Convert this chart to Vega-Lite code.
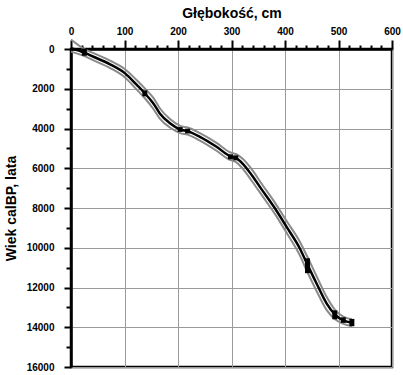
{
  "$schema": "https://vega.github.io/schema/vega-lite/v6.json",
  "width": 321,
  "height": 318,
  "autosize": {"type": "none"},
  "padding": {"left": 71, "top": 49, "right": 11, "bottom": 8},
  "background": "white",
  "config": {
    "view": {"stroke": "black", "strokeWidth": 2.5},
    "font": "Liberation Sans"
  },
  "datasets": {
    "curve": [
      {"depth": 0, "age": -40, "age_lo": -480, "age_hi": 130},
      {"depth": 25, "age": 180, "age_lo": 1, "age_hi": 359},
      {"depth": 42, "age": 390, "age_lo": 208, "age_hi": 572},
      {"depth": 73, "age": 770, "age_lo": 582, "age_hi": 958},
      {"depth": 101, "age": 1225, "age_lo": 1015, "age_hi": 1435},
      {"depth": 123, "age": 1810, "age_lo": 1574, "age_hi": 2046},
      {"depth": 138, "age": 2230, "age_lo": 1982, "age_hi": 2478},
      {"depth": 154, "age": 2740, "age_lo": 2463, "age_hi": 3017},
      {"depth": 166, "age": 3240, "age_lo": 2981, "age_hi": 3499},
      {"depth": 185, "age": 3740, "age_lo": 3528, "age_hi": 3952},
      {"depth": 204, "age": 4050, "age_lo": 3869, "age_hi": 4231},
      {"depth": 218, "age": 4130, "age_lo": 3953, "age_hi": 4307},
      {"depth": 241, "age": 4420, "age_lo": 4231, "age_hi": 4609},
      {"depth": 272, "age": 4920, "age_lo": 4722, "age_hi": 5118},
      {"depth": 298, "age": 5400, "age_lo": 5208, "age_hi": 5592},
      {"depth": 308, "age": 5480, "age_lo": 5284, "age_hi": 5676},
      {"depth": 322, "age": 5800, "age_lo": 5548, "age_hi": 6052},
      {"depth": 338, "age": 6350, "age_lo": 6060, "age_hi": 6640},
      {"depth": 356, "age": 7050, "age_lo": 6770, "age_hi": 7330},
      {"depth": 382, "age": 8050, "age_lo": 7765, "age_hi": 8335},
      {"depth": 403, "age": 8950, "age_lo": 8650, "age_hi": 9250},
      {"depth": 428, "age": 10050, "age_lo": 9706, "age_hi": 10394},
      {"depth": 442, "age": 10850, "age_lo": 10465, "age_hi": 11235},
      {"depth": 459, "age": 11800, "age_lo": 11426, "age_hi": 12174},
      {"depth": 478, "age": 12810, "age_lo": 12483, "age_hi": 13137},
      {"depth": 493, "age": 13350, "age_lo": 13114, "age_hi": 13586},
      {"depth": 509, "age": 13650, "age_lo": 13466, "age_hi": 13834},
      {"depth": 525, "age": 13770, "age_lo": 13597, "age_hi": 13943}
    ],
    "dates": [
      {"depth": 25, "age_min": -20, "age_max": 340},
      {"depth": 138, "age_min": 2080, "age_max": 2380},
      {"depth": 204, "age_min": 3930, "age_max": 4170},
      {"depth": 218, "age_min": 4010, "age_max": 4250},
      {"depth": 298, "age_min": 5300, "age_max": 5550},
      {"depth": 308, "age_min": 5350, "age_max": 5600},
      {"depth": 442, "age_min": 10530, "age_max": 11280},
      {"depth": 493, "age_min": 13150, "age_max": 13600},
      {"depth": 509, "age_min": 13500, "age_max": 13780},
      {"depth": 525, "age_min": 13580, "age_max": 13950}
    ]
  },
  "layer": [
    {
      "data": {"name": "curve"},
      "mark": {"type": "line", "color": "#8a8a8a", "strokeWidth": 2, "interpolate": "monotone"},
      "encoding": {
        "x": {
          "field": "depth", "type": "quantitative",
          "scale": {"domain": [0, 600], "nice": false},
          "axis": {
            "orient": "top",
            "title": "Głębokość, cm",
            "titleFont": "Liberation Sans",
            "titleFontSize": 14,
            "titleFontWeight": "bold",
            "titlePadding": 6,
            "tickCount": 100,
            "values": [0, 20, 40, 60, 80, 100, 120, 140, 160, 180, 200, 220, 240, 260, 280, 300, 320, 340, 360, 380, 400, 420, 440, 460, 480, 500, 520, 540, 560, 580, 600],
            "labelExpr": "datum.value % 100 === 0 ? datum.label : ''",
            "labelFont": "Liberation Sans",
            "labelFontSize": 10,
            "labelFontWeight": "bold",
            "labelColor": "black",
            "labelPadding": 4,
            "labelFlush": false,
            "labelOverlap": false,
            "domainColor": "black",
            "domainWidth": 2.5,
            "tickColor": "black",
            "tickWidth": 2,
            "tickSize": {"condition": {"test": "datum.value % 100 === 0", "value": 9}, "value": 4},
            "grid": true,
            "gridColor": "#9a9a9a",
            "gridWidth": 1,
            "gridOpacity": {"condition": {"test": "datum.value % 100 === 0", "value": 1}, "value": 0}
          }
        },
        "y": {
          "field": "age_lo", "type": "quantitative",
          "scale": {"domain": [0, 16000], "nice": false, "reverse": true},
          "axis": {
            "title": "Wiek calBP, lata",
            "titleFont": "Liberation Sans",
            "titleFontSize": 14,
            "titleFontWeight": "bold",
            "titlePadding": 8,
            "tickCount": 100,
            "values": [0, 1000, 2000, 3000, 4000, 5000, 6000, 7000, 8000, 9000, 10000, 11000, 12000, 13000, 14000, 15000, 16000],
            "format": "d",
            "labelExpr": "datum.value % 2000 === 0 ? datum.label : ''",
            "labelFont": "Liberation Sans",
            "labelFontSize": 10,
            "labelFontWeight": "bold",
            "labelColor": "black",
            "labelPadding": 10,
            "labelFlush": false,
            "labelOverlap": false,
            "domainColor": "black",
            "domainWidth": 2.5,
            "tickColor": "black",
            "tickWidth": 2,
            "tickSize": {"condition": {"test": "datum.value % 2000 === 0", "value": 7}, "value": 5},
            "grid": true,
            "gridColor": "#9a9a9a",
            "gridWidth": 1,
            "gridOpacity": {"condition": {"test": "datum.value % 2000 === 0", "value": 1}, "value": 0}
          }
        }
      }
    },
    {
      "data": {"name": "curve"},
      "mark": {"type": "line", "color": "#8a8a8a", "strokeWidth": 2, "interpolate": "monotone"},
      "encoding": {
        "x": {"field": "depth", "type": "quantitative"},
        "y": {"field": "age_hi", "type": "quantitative"}
      }
    },
    {
      "data": {"name": "curve"},
      "mark": {"type": "line", "color": "black", "strokeWidth": 2.5, "interpolate": "monotone"},
      "encoding": {
        "x": {"field": "depth", "type": "quantitative"},
        "y": {"field": "age", "type": "quantitative"}
      }
    },
    {
      "data": {"name": "dates"},
      "mark": {"type": "rule", "color": "black", "strokeWidth": 5},
      "encoding": {
        "x": {"field": "depth", "type": "quantitative"},
        "y": {"field": "age_min", "type": "quantitative"},
        "y2": {"field": "age_max"}
      }
    }
  ]
}
